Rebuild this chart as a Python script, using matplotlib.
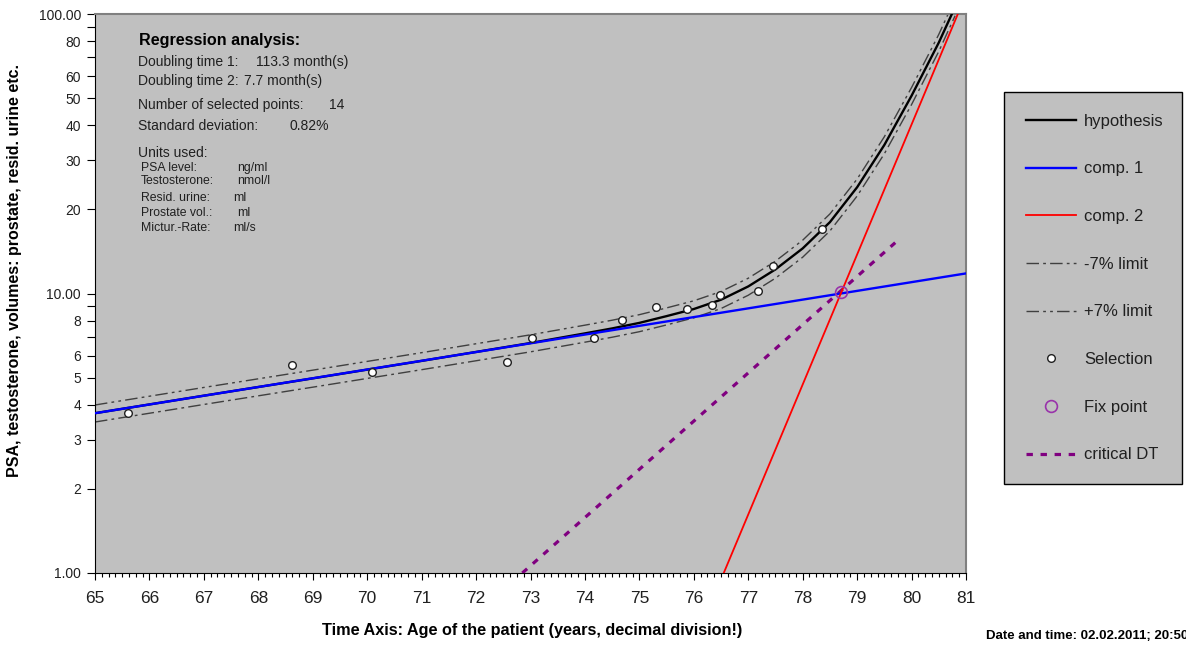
import numpy as np
import matplotlib
matplotlib.use("Agg")
import matplotlib.pyplot as plt
from matplotlib import font_manager
from matplotlib.ticker import FixedLocator, MultipleLocator, NullFormatter

# --- data ---
sel_age = [65.61, 68.62, 70.08, 72.56, 73.02, 74.16, 74.69, 75.30, 75.87, 76.33, 76.49, 77.17, 77.45, 78.35]
sel_psa = [3.74, 5.55, 5.24, 5.69, 6.93, 6.93, 8.04, 8.95, 8.80, 9.10, 9.88, 10.2, 12.5, 17.0]

hyp_age = [65.0, 67.0, 69.0, 71.0, 73.0, 74.0, 74.5, 75.0, 75.5, 76.0, 76.5, 77.0, 77.5, 78.0,
           78.5, 79.0, 79.5, 80.0, 80.5, 80.8]
hyp_psa = [3.73, 4.31, 4.97, 5.74, 6.65, 7.2, 7.5, 7.85, 8.3, 8.8, 9.5, 10.6, 12.2, 14.5,
           18.0, 24.0, 34.0, 51.0, 79.0, 106.0]

comp1_age = [65.0, 81.0]
comp1_psa = [3.73, 11.8]
comp2_age = [76.55, 80.85]
comp2_psa = [1.0, 100.0]
crit_age = [72.85, 79.7]
crit_psa = [1.0, 15.2]
fix_age = [78.7]
fix_psa = [10.1]
limit_pct = 7

ytick_vals = [1, 2, 3, 4, 5, 6, 7, 8, 9, 10, 20, 30, 40, 50, 60, 70, 80, 90, 100]
ytick_text = ["1.00", "2", "3", "4", "5", "6", "", "8", "", "10.00", "20", "30", "40", "50",
              "60", "", "80", "", "100.00"]

# --- fonts ---
names = {f.name for f in font_manager.fontManager.ttflist}
base = "Liberation Sans" if "Liberation Sans" in names else "DejaVu Sans"
plt.rcParams["font.family"] = [base, "DejaVu Sans"]

W, H = 1186, 645
fig = plt.figure(figsize=(W / 100, H / 100), dpi=100)
fig.patch.set_facecolor("white")


def fx(px):
    return px / W


def fy(py):
    return 1 - py / H


ax = fig.add_axes([fx(95), fy(573), fx(966) - fx(95), fy(14) - fy(573)])
ax.set_facecolor("#c0c0c0")
ax.set_yscale("log")
ax.set_xlim(65, 81)
ax.set_ylim(1, 100)

hyp = np.array(hyp_psa)
lo, = ax.plot(hyp_age, hyp * (1 - limit_pct / 100), color="#404040", lw=1.0,
              dashes=(9, 3, 2, 3), label="-7% limit", zorder=2)
hi, = ax.plot(hyp_age, hyp * (1 + limit_pct / 100), color="#404040", lw=1.0,
              dashes=(9, 3, 2, 3, 2, 3), label="+7% limit", zorder=2)
crit, = ax.plot(crit_age, crit_psa, color="#800080", lw=2.3, dashes=(2, 2.4),
                label="critical DT", zorder=3)
h_line, = ax.plot(hyp_age, hyp_psa, color="black", lw=1.7, label="hypothesis", zorder=4)
c1, = ax.plot(comp1_age, comp1_psa, color="#0000ff", lw=1.7, label="comp. 1", zorder=5)
c2, = ax.plot(comp2_age, comp2_psa, color="#ff0000", lw=1.3, label="comp. 2", zorder=6)
sel, = ax.plot(sel_age, sel_psa, ls="none", marker="o", ms=5.5, mfc="white", mec="#202020",
               mew=1.0, label="Selection", zorder=7)
fix, = ax.plot(fix_age, fix_psa, ls="none", marker="o", ms=8.5, mfc="none", mec="#9933aa",
               mew=1.2, label="Fix point", zorder=8)

# axes frame
for s in ["left", "bottom"]:
    ax.spines[s].set_color("black")
for s in ["top", "right"]:
    ax.spines[s].set_color("#808080")
    ax.spines[s].set_linewidth(1.5)

ax.yaxis.set_major_locator(FixedLocator(ytick_vals))
ax.yaxis.set_minor_locator(FixedLocator([]))
ax.set_yticklabels(ytick_text)
ax.yaxis.set_minor_formatter(NullFormatter())
ax.tick_params(axis="y", which="major", direction="out", length=6, width=0.8, labelsize=10,
               labelcolor="#202020", pad=4)

ax.xaxis.set_major_locator(MultipleLocator(1))
ax.xaxis.set_minor_locator(MultipleLocator(0.125))
ax.tick_params(axis="x", which="major", direction="out", length=5, width=0.8, pad=8,
               labelsize=12.5, labelcolor="#202020")
ax.tick_params(axis="x", which="minor", direction="out", length=3, width=0.8)

fig.text(fx(532), fy(630), "Time Axis: Age of the patient (years, decimal division!)",
         ha="center", va="center", fontsize=11.7, fontweight="bold")
fig.text(fx(15), fy(270), "PSA, testosterone, volumes: prostate, resid. urine etc.",
         ha="center", va="center", rotation=90, fontsize=11.5, fontweight="bold")
fig.text(fx(986), fy(636), "Date and time: 02.02.2011; 20:50", ha="left", va="center",
         fontsize=9.5, fontweight="bold")
# chart title, mostly cut off at the top edge like in the original
fig.text(fx(597), fy(-4), "Documentation of PSA data  \u2014  Patient: Street", ha="center",
         va="center", fontsize=12, fontweight="bold", color="#e2e2e2")

# regression info block
fig.text(fx(139), fy(40), "Regression analysis:", fontsize=11.6, fontweight="bold", va="center")
info = [
    (62, "Doubling time 1:", 256, "113.3 month(s)"),
    (81, "Doubling time 2:", 244, "7.7 month(s)"),
    (105, "Number of selected points:", 329, "14"),
    (126, "Standard deviation:", 289, "0.82%"),
]
for y, lab, vx, val in info:
    fig.text(fx(138), fy(y), lab, fontsize=10, va="center", color="#202020")
    fig.text(fx(vx), fy(y), val, fontsize=10, va="center", color="#202020")
fig.text(fx(138), fy(153), "Units used:", fontsize=10, va="center", color="#202020")
units = [
    (168, "PSA level:", 237, "ng/ml"),
    (181, "Testosterone:", 237, "nmol/l"),
    (198, "Resid. urine:", 233, "ml"),
    (213, "Prostate vol.:", 237, "ml"),
    (228, "Mictur.-Rate:", 233, "ml/s"),
]
for y, lab, vx, val in units:
    fig.text(fx(141), fy(y), lab, fontsize=8.8, va="center", color="#202020")
    fig.text(fx(vx), fy(y), val, fontsize=8.8, va="center", color="#202020")

# legend
leg = fig.legend(handles=[h_line, c1, c2, lo, hi, sel, fix, crit],
                 loc="upper left",
                 bbox_to_anchor=(fx(1004), fy(92), fx(1182) - fx(1004), 0),
                 mode="expand", fontsize=12, frameon=True, fancybox=False,
                 facecolor="#c0c0c0", edgecolor="black", framealpha=1,
                 handlelength=3.0, handletextpad=0.5, labelspacing=1.96,
                 borderpad=1.3, borderaxespad=0, numpoints=1)
leg.get_frame().set_linewidth(1.0)
for t in leg.get_texts():
    t.set_color("#202020")

fig.savefig("out.png", dpi=100)
